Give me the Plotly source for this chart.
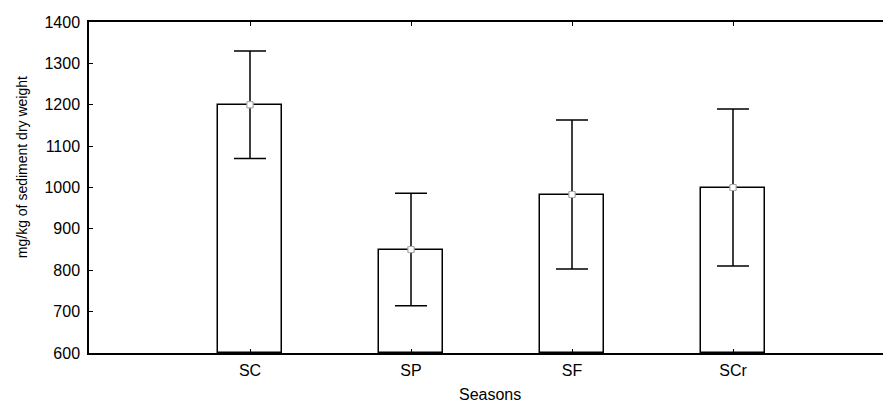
import plotly.graph_objects as go

categories = ["SC", "SP", "SF", "SCr"]
positions = [1, 2, 3, 4]
means = [1200, 850, 983, 1000]
errors = [130, 136, 180, 190]
y_ticks = [600, 700, 800, 900, 1000, 1100, 1200, 1300, 1400]
y_title = "mg/kg of sediment dry weight"
x_title = "Seasons"

fig = go.Figure()
fig.add_trace(go.Bar(
    x=positions, y=[m - 600 for m in means], base=600, width=0.4,
    marker=dict(color="white", line=dict(color="black", width=1.5)),
    hoverinfo="skip",
))
fig.add_trace(go.Scatter(
    x=positions, y=means, mode="markers",
    marker=dict(symbol="square", size=6, color="white", line=dict(color="#999999", width=1)),
    error_y=dict(type="data", array=errors, visible=True, color="black", thickness=1.5, width=16),
))
fig.add_trace(go.Scatter(
    x=positions, y=means, mode="markers",
    marker=dict(symbol="square", size=6, color="white", line=dict(color="#aaaaaa", width=1)),
))
# invisible trace on a right axis to get right-side inner ticks without a line
fig.add_trace(go.Scatter(x=[positions[0]], y=[means[0]], yaxis="y2", mode="markers",
                         marker=dict(opacity=0), hoverinfo="skip"))

fig.update_layout(
    width=883, height=397,
    margin=dict(l=81, r=0, t=14, b=52, autoexpand=False),
    paper_bgcolor="white", plot_bgcolor="white",
    showlegend=False,
    font=dict(family="Liberation Sans, Arial, sans-serif", size=16, color="black"),
    bargap=0,
    xaxis=dict(
        range=[0, 802 / 161], tickvals=positions, ticktext=categories,
        ticks="inside", ticklen=4, tickcolor="black", mirror="ticks",
        showline=True, linecolor="black", linewidth=1.5, showgrid=False, zeroline=False,
        tickfont=dict(size=16), ticklabelstandoff=2, automargin=False,
    ),
    yaxis=dict(
        range=[600, 1400], tickvals=y_ticks,
        ticks="inside", ticklen=4, tickcolor="black",
        showline=True, linecolor="black", linewidth=1.5, showgrid=False, zeroline=False,
        tickfont=dict(size=16), ticklabelstandoff=4, automargin=False,
    ),
    yaxis2=dict(overlaying="y", side="right", range=[600, 1400], tickvals=y_ticks,
                ticks="inside", ticklen=3, tickcolor="black", showticklabels=False,
                showline=False, showgrid=False, zeroline=False),
    annotations=[
        dict(text=y_title, xref="paper", yref="paper", x=-0.0835, y=0.5615,
             textangle=-90, showarrow=False, xanchor="center", yanchor="middle",
             font=dict(size=14)),
        dict(text=x_title, xref="paper", yref="paper", x=0.5, y=-0.125,
             showarrow=False, xanchor="center", yanchor="middle",
             font=dict(size=16)),
    ],
)
fig.write_html("out.html")
